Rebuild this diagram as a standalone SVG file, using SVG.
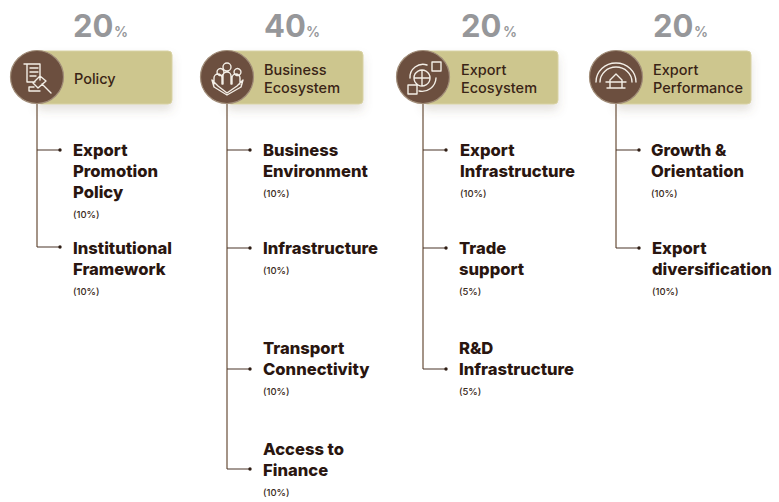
<svg xmlns="http://www.w3.org/2000/svg" width="779" height="502" viewBox="0 0 779 502">
<defs>
<filter id="sh" x="-10%" y="-20%" width="120%" height="160%"><feDropShadow dx="0" dy="6" stdDeviation="5" flood-color="#6b5a45" flood-opacity="0.18"/></filter>
</defs>
<style>
text{font-family:"Inter","Liberation Sans",sans-serif}
.pct{font-size:31px;font-weight:700;fill:#96979a}
.pc{font-size:14px;font-weight:600;fill:#96979a}
.band{fill:#cdc68e;stroke:#d8d2a4;stroke-width:1}
.disc{fill:#6c4f3f;stroke:#a08c78;stroke-width:1.2}
.hd{font-size:14.5px;font-weight:500;fill:#3a2416}
.it{font-size:16.6px;font-weight:800;fill:#2a1610}
.sm{font-size:9.5px;font-weight:500;fill:#3a2a20}
.ic{fill:none;stroke:#f3eee6;stroke-width:1.4;stroke-linejoin:round;stroke-linecap:round}
.tr{fill:none;stroke:#86705f;stroke-width:1.5}
.br{fill:none;stroke:#4a3528;stroke-width:1.2}
.dot{fill:#2e1d14}
</style>
<g id="connectors">
<path class="tr" d="M37 104V247"/><path class="br" d="M37 150H60M37 247H60"/><circle class="dot" cx="60" cy="150" r="1.7"/><circle class="dot" cx="60" cy="247" r="1.7"/>
<path class="tr" d="M227 104V469"/><path class="br" d="M227 150H250M227 248H250M227 369H250M227 469H250"/><circle class="dot" cx="250" cy="150" r="1.7"/><circle class="dot" cx="250" cy="248" r="1.7"/><circle class="dot" cx="250" cy="369" r="1.7"/><circle class="dot" cx="250" cy="469" r="1.7"/>
<path class="tr" d="M423 104V369"/><path class="br" d="M423 150H446M423 248H446M423 369H446"/><circle class="dot" cx="446" cy="150" r="1.7"/><circle class="dot" cx="446" cy="248" r="1.7"/><circle class="dot" cx="446" cy="369" r="1.7"/>
<path class="tr" d="M616 104V248"/><path class="br" d="M616 150H639M616 248H639"/><circle class="dot" cx="639" cy="150" r="1.7"/><circle class="dot" cx="639" cy="248" r="1.7"/>
</g>
<g id="policy">
<text x="73" y="37" class="pct">20</text><text x="114" y="37" class="pc">%</text>
<rect class="band" x="37" y="51" width="135" height="53" rx="4" filter="url(#sh)"/>
<circle class="disc" cx="37" cy="77" r="26.5"/>
<path class="ic" d="M24 64h16v16M27 64v18h8M30 68h8M30 72h8M30 76h6M38 88l-5-5 7-7 6 5ZM42 84l9 9M34 87h-5v4h11"/>
<text x="74" y="84" class="hd">Policy</text>
</g>
<g id="business-ecosystem">
<text x="264" y="37" class="pct">40</text><text x="306" y="37" class="pc">%</text>
<rect class="band" x="227" y="51" width="136" height="53" rx="4" filter="url(#sh)"/>
<circle class="disc" cx="227" cy="77" r="26.5"/>
<path class="ic" d="M223 67a4 4 0 1 1 8 0a4 4 0 1 1-8 0M217 72a3.500 3.500 0 1 1 0 .1M234 72a3.500 3.500 0 1 1 0 .1M214 84v-6a4 4 0 0 1 8 0v6M223 84v-8a4 4 0 0 1 8 0v8M232 84v-6a4 4 0 0 1 8 0v6M212 80l6 6 9 7 10-7 6-6-2 7-14 8-13-8Z"/>
<text x="264" y="75" class="hd">Business</text><text x="264" y="93" class="hd">Ecosystem</text>
</g>
<g id="export-ecosystem">
<text x="461" y="37" class="pct">20</text><text x="503" y="37" class="pc">%</text>
<rect class="band" x="423" y="51" width="135" height="53" rx="4" filter="url(#sh)"/>
<circle class="disc" cx="423" cy="77" r="26.5"/>
<path class="ic" d="M432 62h9v9h-9ZM408 85h9v9h-9ZM414 78a8 8 0 1 1 0 .1M422 70v16M414 78h16M410 78a13 13 0 0 1 17-13M436 78a14 14 0 0 1-17 13"/>
<text x="461" y="75" class="hd">Export</text><text x="461" y="93" class="hd">Ecosystem</text>
</g>
<g id="export-performance">
<text x="653" y="37" class="pct">20</text><text x="694" y="37" class="pc">%</text>
<rect class="band" x="616" y="51" width="135" height="53" rx="4" filter="url(#sh)"/>
<circle class="disc" cx="616" cy="77" r="26.5"/>
<path class="ic" d="M596 82a20 19 0 0 1 40 0M600 82a16 15 0 0 1 32 0M610 88v-8l6-6 6 6v8M607 88h18M606 82h20"/>
<text x="653" y="75" class="hd">Export</text><text x="653" y="93" class="hd">Performance</text>
</g>
<g id="export-promotion-policy"><text x="73" y="156" class="it">Export</text><text x="73" y="177" class="it">Promotion</text><text x="73" y="198" class="it">Policy</text><text x="73" y="218" class="sm">(10%)</text></g>
<g id="institutional-framework"><text x="73" y="254" class="it">Institutional</text><text x="73" y="275" class="it">Framework</text><text x="73" y="295" class="sm">(10%)</text></g>
<g id="business-environment"><text x="263" y="156" class="it">Business</text><text x="263" y="177" class="it">Environment</text><text x="263" y="197" class="sm">(10%)</text></g>
<g id="infrastructure"><text x="263" y="254" class="it">Infrastructure</text><text x="263" y="274" class="sm">(10%)</text></g>
<g id="transport-connectivity"><text x="263" y="354" class="it">Transport</text><text x="263" y="375" class="it">Connectivity</text><text x="263" y="395" class="sm">(10%)</text></g>
<g id="access-to-finance"><text x="263" y="455" class="it">Access to</text><text x="263" y="476" class="it">Finance</text><text x="263" y="496" class="sm">(10%)</text></g>
<g id="export-infrastructure"><text x="460" y="156" class="it">Export</text><text x="460" y="177" class="it">Infrastructure</text><text x="460" y="197" class="sm">(10%)</text></g>
<g id="trade-support"><text x="459" y="254" class="it">Trade</text><text x="459" y="275" class="it">support</text><text x="459" y="295" class="sm">(5%)</text></g>
<g id="rd-infrastructure"><text x="459" y="354" class="it">R&amp;D</text><text x="459" y="375" class="it">Infrastructure</text><text x="459" y="395" class="sm">(5%)</text></g>
<g id="growth-orientation"><text x="651" y="156" class="it">Growth &amp;</text><text x="651" y="177" class="it">Orientation</text><text x="651" y="197" class="sm">(10%)</text></g>
<g id="export-diversification"><text x="652" y="254" class="it">Export</text><text x="652" y="275" class="it">diversification</text><text x="652" y="295" class="sm">(10%)</text></g>
</svg>
